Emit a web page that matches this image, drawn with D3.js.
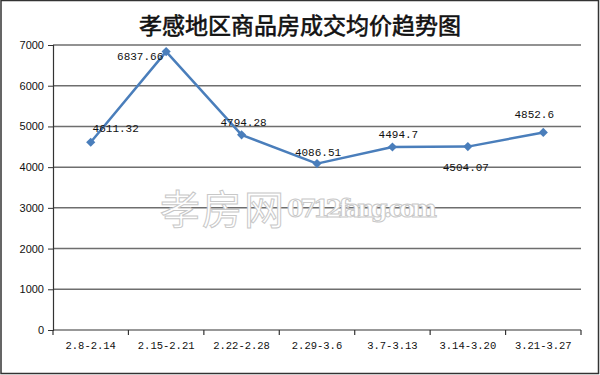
<!DOCTYPE html>
<html>
<head>
<meta charset="utf-8">
<script src="https://cdn.jsdelivr.net/npm/d3@7"></script>
<style>
  body { margin: 0; background: #fff; }
  svg { display: block; }
</style>
</head>
<body>
<div id="chart"></div>
<script>
var categories = ["2.8-2.14", "2.15-2.21", "2.22-2.28", "2.29-3.6", "3.7-3.13", "3.14-3.20", "3.21-3.27"];
var prices = [4611.32, 6837.66, 4794.28, 4086.51, 4494.7, 4504.07, 4852.6];
var yTicks = [0, 1000, 2000, 3000, 4000, 5000, 6000, 7000];
var titleText = "孝感地区商品房成交均价趋势图";
// 数据标签偏移 (dx, dy)
var labelOffsets = [[25, -10], [-26, 8], [2, -9], [1, -8], [6, -9], [-2, 24], [-9, -14]];

var width = 600, height = 375;
var margin = { left: 53, right: 19, top: 45, bottom: 45 };
var lineColor = "#4a7ebb";
var monoFont = '"Liberation Mono", "DejaVu Sans Mono", monospace';

var svg = d3.select("#chart").append("svg")
  .attr("width", width)
  .attr("height", height);

// 外框
svg.append("rect")
  .attr("x", 1).attr("y", 0.5)
  .attr("width", width - 2.5).attr("height", height - 2)
  .attr("fill", "#fff")
  .attr("stroke", "#333")
  .attr("stroke-width", 1.5);

var x = d3.scaleBand().domain(categories).range([margin.left, width - margin.right]);
var y = d3.scaleLinear().domain([0, 7000]).range([height - margin.bottom, margin.top]);

// 标题
svg.append("text")
  .attr("x", 300)
  .attr("y", 34)
  .attr("text-anchor", "middle")
  .style("font-family", '"Noto Sans CJK SC"')
  .style("font-size", "23px")
  .style("font-weight", "normal")
  .attr("fill", "#111")
  .attr("stroke", "#111")
  .attr("stroke-width", 0.6)
  .text(titleText);

// 网格线
svg.append("g")
  .selectAll("line")
  .data(yTicks.filter(function (d) { return d > 0; }))
  .enter().append("line")
  .attr("x1", margin.left).attr("x2", width - margin.right)
  .attr("y1", function (d) { return y(d); })
  .attr("y2", function (d) { return y(d); })
  .attr("stroke", "#6e6e6e")
  .attr("stroke-width", 1.5);

// 水印
var wm = svg.append("g")
  .attr("fill", "#fff")
  .attr("stroke", "#c8c8c8")
  .attr("stroke-width", 1);
wm.append("text")
  .attr("x", 160).attr("y", 224)
  .style("font-family", '"Noto Sans CJK SC"')
  .style("font-size", "40px")
  .attr("textLength", 124)
  .text("孝房网");
wm.append("text")
  .attr("x", 287).attr("y", 217)
  .style("font-family", '"DejaVu Serif", serif')
  .style("font-size", "24px")
  .style("font-weight", "bold")
  .attr("textLength", 150)
  .text("0712fang.com");

// y 轴
var yAxis = svg.append("g")
  .attr("transform", "translate(" + margin.left + ",0)")
  .call(d3.axisLeft(y).tickValues(yTicks).tickSize(5).tickPadding(4).tickFormat(d3.format("d")));
yAxis.select(".domain").attr("stroke", "#333").attr("stroke-width", 1.2);
yAxis.selectAll(".tick line").attr("stroke", "#333");
yAxis.selectAll(".tick text")
  .style("font-family", '"Liberation Sans", Arial, sans-serif')
  .style("font-size", "11px")
  .attr("fill", "#111");

// x 轴
var xAxis = svg.append("g")
  .attr("transform", "translate(0," + y(0) + ")");
xAxis.append("line")
  .attr("x1", margin.left).attr("x2", width - margin.right)
  .attr("stroke", "#333").attr("stroke-width", 1.2);
var xEdges = categories.map(function (c) { return x(c); }).concat([x(categories[categories.length - 1]) + x.bandwidth()]);
xAxis.selectAll(".edge")
  .data(xEdges)
  .enter().append("line")
  .attr("x1", function (d) { return d; }).attr("x2", function (d) { return d; })
  .attr("y1", 0).attr("y2", 5)
  .attr("stroke", "#333").attr("stroke-width", 1.2);
xAxis.selectAll(".lbl")
  .data(categories)
  .enter().append("text")
  .attr("x", function (d) { return x(d) + x.bandwidth() / 2; })
  .attr("y", 19)
  .attr("text-anchor", "middle")
  .style("font-family", monoFont)
  .style("font-size", "10.5px")
  .attr("fill", "#111")
  .text(function (d) { return d; });

// 折线
var line = d3.line()
  .x(function (d, i) { return x(categories[i]) + x.bandwidth() / 2; })
  .y(function (d) { return y(d); });
svg.append("path")
  .datum(prices)
  .attr("fill", "none")
  .attr("stroke", lineColor)
  .attr("stroke-width", 2.5)
  .attr("stroke-linejoin", "round")
  .attr("d", line);

// 菱形标记
svg.selectAll(".marker")
  .data(prices)
  .enter().append("path")
  .attr("d", d3.symbol().type(d3.symbolSquare).size(42))
  .attr("transform", function (d, i) {
    return "translate(" + (x(categories[i]) + x.bandwidth() / 2) + "," + y(d) + ")rotate(45)";
  })
  .attr("fill", lineColor);

// 数据标签
svg.selectAll(".vlabel")
  .data(prices)
  .enter().append("text")
  .attr("x", function (d, i) { return x(categories[i]) + x.bandwidth() / 2 + labelOffsets[i][0]; })
  .attr("y", function (d, i) { return y(d) + labelOffsets[i][1]; })
  .attr("text-anchor", "middle")
  .style("font-family", monoFont)
  .style("font-size", "11px")
  .attr("fill", "#111")
  .text(function (d) { return d; });
</script>
</body>
</html>
